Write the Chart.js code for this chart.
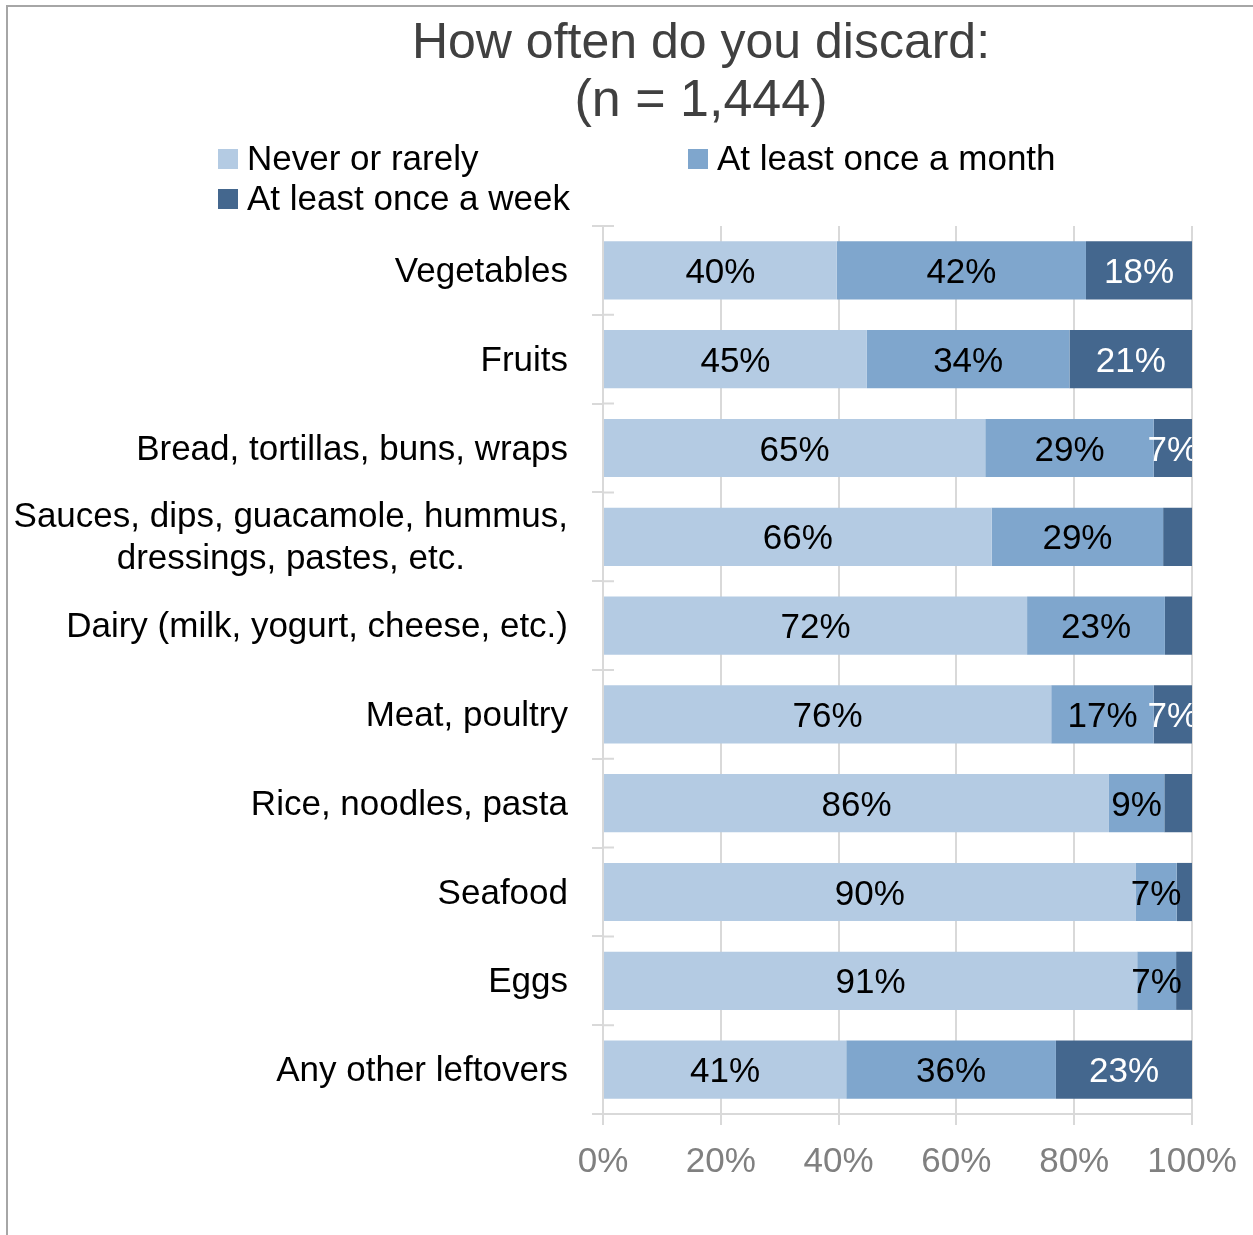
<!DOCTYPE html>
<html>
<head>
<meta charset="utf-8">
<title>How often do you discard</title>
<script src="https://cdn.jsdelivr.net/npm/chart.js@4.4.1/dist/chart.umd.min.js"></script>
<style>
  html, body { margin: 0; padding: 0; background: #ffffff; }
  #wrap { position: relative; width: 1253px; height: 1235px; }
  canvas { display: block; }
</style>
</head>
<body>
<div id="wrap"><canvas id="chart" width="1253" height="1235"></canvas></div>
<script>
// Food categories (multi-line labels are arrays)
const categories = [
  'Vegetables',
  'Fruits',
  'Bread, tortillas, buns, wraps',
  ['Sauces, dips, guacamole, hummus,', 'dressings, pastes, etc.'],
  'Dairy (milk, yogurt, cheese, etc.)',
  'Meat, poultry',
  'Rice, noodles, pasta',
  'Seafood',
  'Eggs',
  'Any other leftovers'
];

// Share of respondents (%) per answer
const neverOrRarely   = [39.7, 44.8, 64.9, 66.0, 72.0, 76.1, 85.9, 90.4, 90.7, 41.3];
const onceAMonth      = [42.3, 34.4, 28.6, 29.1, 23.4, 17.4,  9.4,  7.0,  6.6, 35.6];
const onceAWeek       = [18.0, 20.8,  6.5,  4.9,  4.6,  6.5,  4.7,  2.6,  2.7, 23.1];

const seriesNames = ['Never or rarely', 'At least once a month', 'At least once a week'];
const xTicks = [0, 20, 40, 60, 80, 100];

const titleLines = ['How often do you discard:', '(n = 1,444)'];

const FONT = '"Liberation Sans", Arial, sans-serif';
const GRID = '#d9d9d9';

// Outer frame, title and legend
const frameTitleLegend = {
  id: 'frameTitleLegend',
  beforeDraw(chart) {
    const ctx = chart.ctx;
    ctx.save();
    ctx.fillStyle = '#ffffff';
    ctx.fillRect(0, 0, chart.width, chart.height);
    ctx.strokeStyle = '#a6a6a6';
    ctx.lineWidth = 2;
    ctx.beginPath();
    ctx.moveTo(7, chart.height);
    ctx.lineTo(7, 6);
    ctx.lineTo(chart.width, 6);
    ctx.stroke();
    ctx.restore();
  },
  afterDraw(chart) {
    const ctx = chart.ctx;
    ctx.save();
    // title
    ctx.fillStyle = '#404040';
    ctx.textAlign = 'center';
    ctx.textBaseline = 'middle';
    ctx.font = '50px ' + FONT;
    ctx.fillText(titleLines[0], 701, 44);
    ctx.font = '52px ' + FONT;
    ctx.fillText(titleLines[1], 701, 102);
    // legend
    const pos = [[218, 159], [688, 159], [218, 199]];
    ctx.font = '35px ' + FONT;
    ctx.textAlign = 'left';
    chart.data.datasets.forEach((ds, i) => {
      const [x, y] = pos[i];
      ctx.fillStyle = ds.backgroundColor;
      ctx.fillRect(x, y - 10, 20, 20);
      ctx.fillStyle = '#000000';
      ctx.fillText(ds.label, x + 29, y + 1);
    });
    ctx.restore();
  }
};

// Category labels: block right-aligned, lines centred within block
const categoryLabels = {
  id: 'categoryLabels',
  afterDraw(chart) {
    const ctx = chart.ctx;
    const yScale = chart.scales.y;
    const right = 568;
    const lineH = 42;
    ctx.save();
    ctx.font = '35px ' + FONT;
    ctx.fillStyle = '#000000';
    ctx.textBaseline = 'middle';
    ctx.textAlign = 'center';
    chart.data.labels.forEach((lab, i) => {
      const lines = Array.isArray(lab) ? lab : [lab];
      const w = Math.max(...lines.map(l => ctx.measureText(l).width));
      const cx = right - w / 2;
      const cy = yScale.getPixelForValue(i);
      lines.forEach((l, k) => {
        const y = cy + (k - (lines.length - 1) / 2) * lineH;
        ctx.fillText(l, cx, y + 2);
      });
    });
    ctx.restore();
  }
};

// Inner halves of the category boundary ticks
const innerTicks = {
  id: 'innerTicks',
  beforeDatasetsDraw(chart) {
    const ctx = chart.ctx;
    const yScale = chart.scales.y;
    const left = chart.chartArea.left;
    const n = chart.data.labels.length;
    ctx.save();
    ctx.strokeStyle = GRID;
    ctx.lineWidth = 2;
    ctx.beginPath();
    for (let i = 0; i <= n; i++) {
      const a = yScale.getPixelForValue(Math.max(0, i - 1));
      const b = yScale.getPixelForValue(Math.min(n - 1, i));
      let y;
      if (i === 0) y = yScale.top;
      else if (i === n) y = yScale.bottom;
      else y = (a + b) / 2;
      ctx.moveTo(left, y);
      ctx.lineTo(left + 11, y);
    }
    ctx.stroke();
    ctx.restore();
  }
};

// Value labels centred in each segment
const valueLabels = {
  id: 'valueLabels',
  afterDatasetsDraw(chart) {
    const ctx = chart.ctx;
    const area = chart.chartArea;
    ctx.save();
    ctx.beginPath();
    ctx.rect(area.left, area.top, area.right - area.left, area.bottom - area.top);
    ctx.clip();
    ctx.font = '35px ' + FONT;
    ctx.textAlign = 'center';
    ctx.textBaseline = 'middle';
    chart.data.datasets.forEach((ds, i) => {
      const meta = chart.getDatasetMeta(i);
      meta.data.forEach((bar, j) => {
        const v = ds.data[j];
        if (v < 5) return;
        ctx.fillStyle = ds.labelColor;
        ctx.fillText(Math.round(v) + '%', (bar.x + bar.base) / 2, bar.y + 3);
      });
    });
    ctx.restore();
  }
};

new Chart(document.getElementById('chart'), {
  type: 'bar',
  data: {
    labels: categories,
    datasets: [
      { label: seriesNames[0], data: neverOrRarely, backgroundColor: '#b4cbe3', labelColor: '#000000' },
      { label: seriesNames[1], data: onceAMonth,    backgroundColor: '#7fa6cd', labelColor: '#000000' },
      { label: seriesNames[2], data: onceAWeek,     backgroundColor: '#44678e', labelColor: '#ffffff' }
    ]
  },
  options: {
    indexAxis: 'y',
    responsive: false,
    animation: false,
    devicePixelRatio: 1,
    datasets: {
      bar: { categoryPercentage: 1.0, barPercentage: 0.655, borderWidth: 0 }
    },
    layout: { padding: { top: 226, right: 61, left: 0, bottom: 0 } },
    plugins: {
      legend: { display: false },
      title: { display: false },
      tooltip: { enabled: false }
    },
    scales: {
      x: {
        stacked: true,
        min: 0,
        max: 100,
        afterBuildTicks(scale) {
          scale.ticks = xTicks.map(v => ({ value: v }));
        },
        afterFit(scale) { scale.height = 121; },
        grid: { color: GRID, lineWidth: 2, tickLength: 11, tickColor: GRID },
        border: { color: GRID, width: 2 },
        ticks: {
          color: '#808080',
          padding: 16,
          font: { family: FONT, size: 35 },
          callback: v => v + '%'
        }
      },
      y: {
        stacked: true,
        afterFit(scale) { scale.width = 603; },
        grid: { offset: true, drawOnChartArea: false, color: GRID, lineWidth: 2, tickLength: 11 },
        border: { color: GRID, width: 2 },
        ticks: { display: false }
      }
    }
  },
  plugins: [frameTitleLegend, innerTicks, valueLabels, categoryLabels]
});
</script>
</body>
</html>
